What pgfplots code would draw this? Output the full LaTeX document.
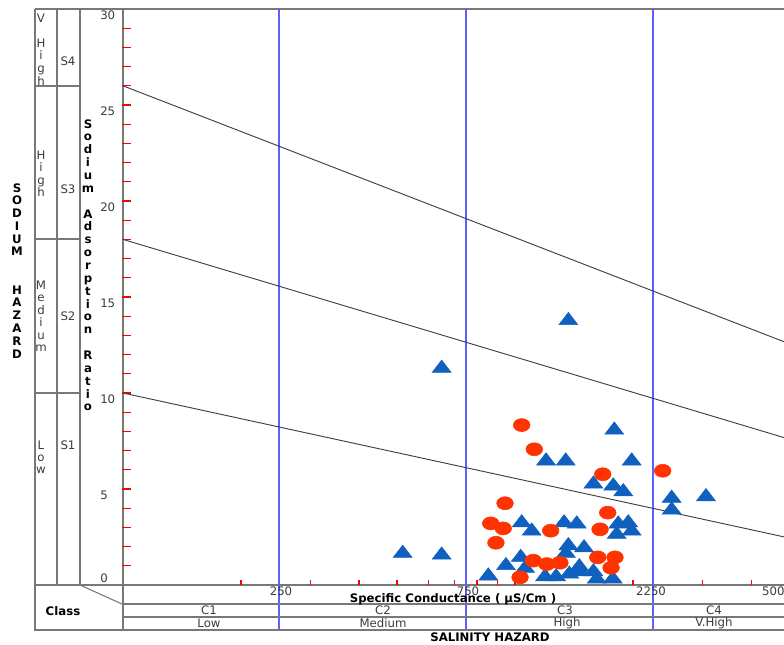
\documentclass[border=0pt]{standalone}
\usepackage{fontspec}
\setmainfont{DejaVu Sans}
\usepackage{pgfplots}
\pgfplotsset{compat=1.18}
\definecolor{ptred}{RGB}{255,51,0}
\definecolor{ptblue}{RGB}{16,96,192}
\definecolor{vblue}{RGB}{95,95,255}
\definecolor{frame}{RGB}{120,120,120}
\definecolor{txt}{RGB}{60,60,60}
\newcommand{\lf}{\fontsize{8.8}{10}\selectfont}
\newcommand{\bff}{\fontsize{8.8}{10}\selectfont\bfseries}
\begin{document}
\begin{tikzpicture}
\begin{axis}[
  at={(92.25pt,-438.75pt)}, anchor=south west,
  scale only axis, width=499.5pt, height=432pt,
  xmode=log, xmin=100, xmax=5000, ymin=0, ymax=30,
  clip=false,
  axis line style={frame, line width=1pt},
  xtick={250,750,2250,5000}, xticklabels={},
  minor xtick={},
  ytick={5,10,...,30},
  major tick length=0pt, minor tick length=0pt,
  tick style={draw=none},
  /pgf/number format/assume math mode=true,
  yticklabel style={font=\lf, text=txt, anchor=west, inner sep=0pt, xshift=-17.25pt, yshift=-4.5pt},
]
% red ticks
\pgfplotsinvokeforeach{200,300,400,500,600,700,800,900,1000,2000,3000,4000}{
  \draw[red, line width=0.8pt] (axis cs:#1,0) -- ++(0pt,4pt);
}
\pgfplotsinvokeforeach{1,2,3,4,5,6,7,8,9,10,11,12,13,14,15,16,17,18,19,20,21,22,23,24,25,26,27,28,29}{
  \draw[red, line width=0.8pt] ([xshift=-0.75pt]axis cs:100,#1) -- ([xshift=6pt]axis cs:100,#1);
}
% class boundaries
\pgfplotsinvokeforeach{250,750,2250}{
  \draw[vblue, line width=1.3pt] (axis cs:#1,-2.344) -- (axis cs:#1,30);
}
% sodium hazard lines
\draw[black!75, line width=0.7pt] (axis cs:100,10) -- (axis cs:5000,2.45);
\draw[black!75, line width=0.7pt] (axis cs:100,18) -- (axis cs:5000,7.6);
\draw[black!75, line width=0.7pt] (axis cs:100,26) -- (axis cs:5000,12.57);

\addplot[only marks, mark=triangle*, mark size=8.2pt, color=ptblue,
  mark options={fill=ptblue, draw=none, yscale=0.75}] coordinates {
(1368,13.77) (650,11.29) (1792,8.07) (1200,6.46) (1347,6.46) (1985,6.46)
(1585,5.26) (1781,5.16) (1889,4.86) (2510,4.52) (3070,4.60) (2510,3.91)
(1040,3.24) (1103,2.81) (1334,3.24) (1437,3.18) (1834,3.18) (1945,3.24)
(1985,2.81) (1817,2.64) (1368,2.05) (1500,1.94) (1349,1.65) (517,1.65)
(650,1.56) (1034,1.44) (948,1.01) (1061,0.87) (1459,0.95) (855,0.47)
(1193,0.43) (1273,0.43) (1376,0.57) (1465,0.69) (1585,0.69) (1616,0.31)
(1776,0.31)
};
\addplot[only marks, mark=*, mark size=6.25pt, color=ptred,
  mark options={fill=ptred, draw=none, yscale=0.78}] coordinates {
(1040,8.33) (1120,7.07) (1674,5.77) (2381,5.95) (943,4.26) (1724,3.77)
(867,3.21) (933,2.95) (1233,2.83) (1648,2.90) (894,2.20) (1113,1.27)
(1205,1.09) (1302,1.16) (1626,1.44) (1799,1.44) (1758,0.90) (1030,0.40)
};
\end{axis}

\begin{scope}[x=0.75pt,y=-0.75pt]
  \draw[frame, line width=1pt] (35,9) -- (35,630) -- (792,630);
  \draw[frame, line width=1pt] (35,9) -- (123,9);
  \draw[frame, line width=1pt] (57,9) -- (57,585);
  \draw[frame, line width=1pt] (80,9) -- (80,585);
  \draw[frame, line width=0.8pt] (35,86) -- (80,86);
  \draw[frame, line width=0.8pt] (35,239) -- (80,239);
  \draw[frame, line width=0.8pt] (35,393) -- (80,393);
  \draw[frame, line width=1pt] (35,585) -- (123,585);
  \draw[frame, line width=0.8pt] (80,585) -- (122,604);
  \draw[frame, line width=1pt] (123,585) -- (123,630);
  \draw[frame, line width=0.8pt] (122,604) -- (792,604);
  \draw[frame, line width=0.8pt] (122,617) -- (792,617);

  % y label 0
  \node[font=\lf, text=txt, anchor=west, inner sep=0pt] at (100,578) {0};
  % x tick labels
  \foreach \l/\x in {250/281,750/468,2250/651,5000/777}
    \node[font=\lf, text=txt, inner sep=0pt] at (\x,591.5) {\l};

  % SODIUM HAZARD
  \foreach \c [count=\i from 0] in {S,O,D,I,U,M,{},{},H,A,Z,A,R,D}
    \node[font=\bff, anchor=base, inner sep=0pt] at (17,{188+\i*12.77+4}) {\c};
  % Sodium Adsorption Ratio
  \foreach \c [count=\i from 0] in {S,o,d,i,u,m,{},A,d,s,o,r,p,t,i,o,n,{},R,a,t,i,o}
    \node[font=\bff, anchor=base, inner sep=0pt] at (88,{124+\i*12.86+4}) {\c};
  % hazard words
  \foreach \c/\y in {V/18,H/43,i/55,g/68,h/81,H/155,i/167,g/180,h/192,
      M/285,e/297,d/310,i/322,u/335,m/347,L/445,o/457,w/469}
    \node[font=\lf, text=txt, anchor=base, inner sep=0pt] at (41,\y+4) {\c};
  \foreach \s/\y in {S4/61,S3/189,S2/316,S1/445}
    \node[font=\lf, text=txt] at (68,\y) {\s};

  \node[font=\bff] at (63,611) {Class};
  \node[font=\bff, inner sep=0pt] at (453,599.5) {Specific Conductance ( µS/Cm )};
  \foreach \c/\x in {C1/209,C2/383,C3/565,C4/714}
    \node[font=\lf, text=txt, inner sep=0pt] at (\x,610.5) {\c};
  \foreach \c/\x in {Low/209,Medium/383,High/567,V.High/714}
    \node[font=\lf, text=txt, inner sep=0pt] at (\x,623.5) {\c};
  \node[font=\bff, inner sep=0pt] at (490,637.5) {SALINITY HAZARD};

  \pgfresetboundingbox
  \path (0,0) rectangle (784,644);
\end{scope}
\end{tikzpicture}
\end{document}
